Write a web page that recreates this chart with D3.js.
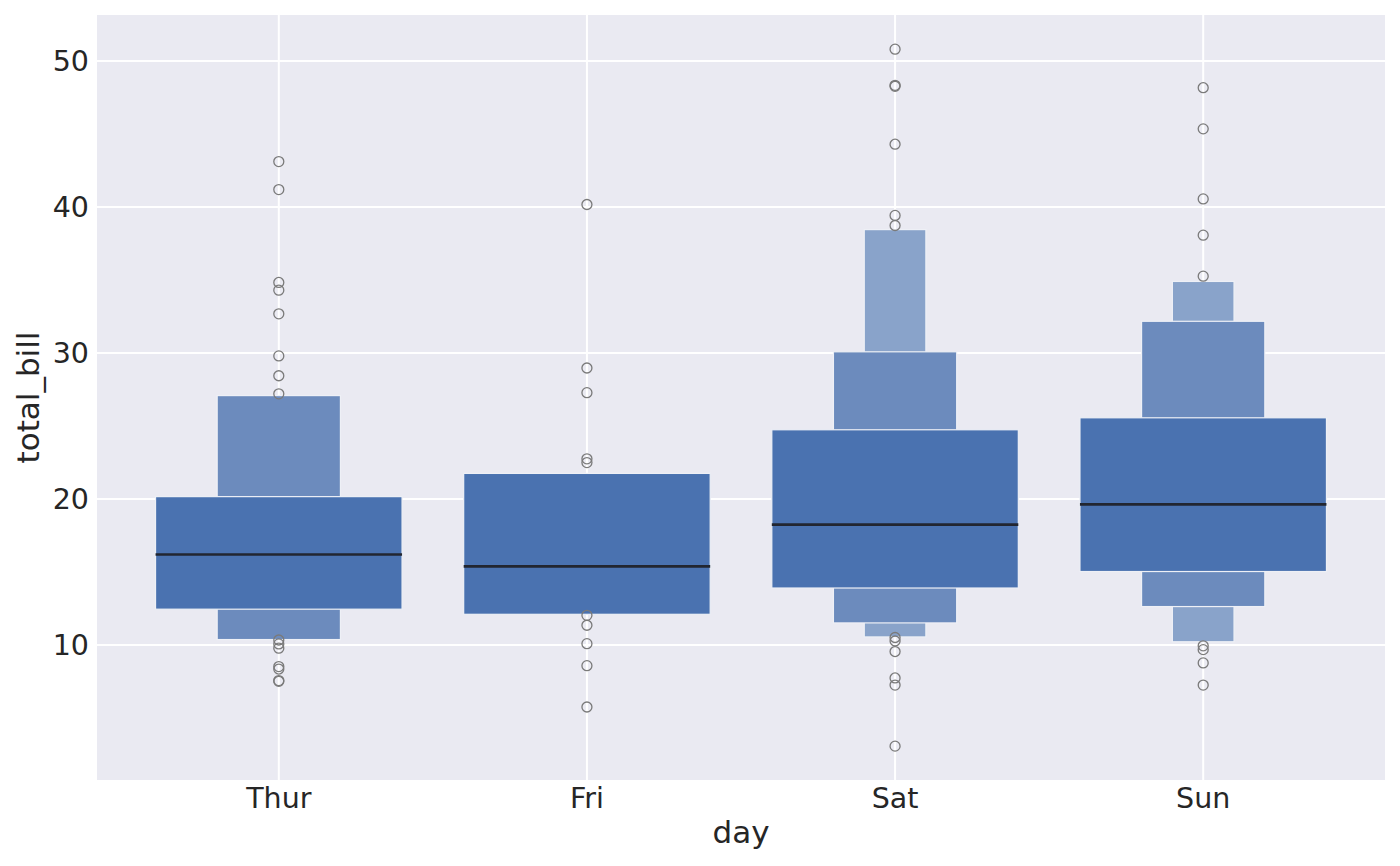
<!DOCTYPE html>
<html>
<head>
<meta charset="utf-8">
<script src="https://cdn.jsdelivr.net/npm/d3@7"></script>
<style>
  body { margin: 0; background: #fff; }
  text { font-family: "DejaVu Sans", sans-serif; fill: #262626; }
</style>
</head>
<body>
<svg id="chart" width="1400" height="866"></svg>
<script>
let days = ["Thur", "Fri", "Sat", "Sun"]
let medians = [16.2, 15.38, 18.24, 19.63]

// letter-value boxes, innermost first: [low, high]
let level1 = [[12.45, 20.16], [12.1, 21.75], [13.9, 24.74], [15.03, 25.56]]
let level2 = [[10.37, 27.08], null, [11.51, 30.08], [12.63, 32.17]]
let level3 = [null, null, [10.55, 38.45], [10.22, 34.9]]

let outliers = [
  [43.11, 41.19, 34.83, 34.30, 32.68, 29.80, 28.44, 27.20, 10.34, 10.07, 9.78, 8.52, 8.35, 7.56, 7.51],
  [40.17, 28.97, 27.28, 22.75, 22.49, 12.03, 11.35, 10.09, 8.58, 5.75],
  [50.81, 48.33, 48.27, 44.30, 39.42, 38.73, 10.51, 10.27, 9.55, 7.74, 7.25, 3.07],
  [48.17, 45.35, 40.55, 38.07, 35.26, 9.94, 9.68, 8.77, 7.25]
]
let yTicks = [10, 20, 30, 40, 50]

let svg = d3.select("#chart")
let plot = {left: 97, right: 1385, top: 15, bottom: 780}

const x = d3.scaleLinear()
    .domain([-0.59, 3.59])
    .range([plot.left, plot.right])

const y = d3.scaleLinear()
    .domain([0.75, 53.15])
    .range([plot.bottom, plot.top])

svg.append("rect")
    .attr("x", plot.left).attr("y", plot.top)
    .attr("width", plot.right - plot.left).attr("height", plot.bottom - plot.top)
    .attr("fill", "#eaeaf2")

// grid
svg.append("g").selectAll("line").data(yTicks).join("line")
    .attr("x1", plot.left).attr("x2", plot.right)
    .attr("y1", d => y(d)).attr("y2", d => y(d))
    .attr("stroke", "#fff").attr("stroke-width", 2)

svg.append("g").selectAll("line").data(days).join("line")
    .attr("x1", (d, i) => x(i)).attr("x2", (d, i) => x(i))
    .attr("y1", plot.top).attr("y2", plot.bottom)
    .attr("stroke", "#fff").attr("stroke-width", 2)

// boxes, outer level first so inner ones sit on top
let fullW = x(0.8) - x(0)
let levels = [
  {data: level3, frac: 0.25, fill: "#89a3ca"},
  {data: level2, frac: 0.5, fill: "#6c8bbd"},
  {data: level1, frac: 1, fill: "#4a72b0"}
]

for (let lv of levels) {
    days.forEach((day, i) => {
        let b = lv.data[i]
        if (!b) return
        let w = fullW * lv.frac
        svg.append("rect")
            .attr("x", x(i) - w / 2)
            .attr("y", y(b[1]))
            .attr("width", w)
            .attr("height", y(b[0]) - y(b[1]))
            .attr("fill", lv.fill)
            .attr("stroke", "#eef0f6")
            .attr("stroke-width", 1.2)
    })
}

// medians
svg.append("g").selectAll("line").data(medians).join("line")
    .attr("x1", (d, i) => x(i) - fullW / 2).attr("x2", (d, i) => x(i) + fullW / 2)
    .attr("y1", d => y(d)).attr("y2", d => y(d))
    .attr("stroke", "#222630").attr("stroke-width", 2.6)

// outliers
days.forEach((day, i) => {
    svg.append("g").selectAll("circle").data(outliers[i]).join("circle")
        .attr("cx", x(i))
        .attr("cy", d => y(d))
        .attr("r", 5)
        .attr("fill", "none")
        .attr("stroke", "#7a7a7a")
        .attr("stroke-width", 1.3)
})

// tick labels
svg.append("g").selectAll("text").data(yTicks).join("text")
    .attr("x", 89).attr("y", d => y(d))
    .attr("dy", "0.36em")
    .style("text-anchor", "end")
    .style("font-size", "28.5px")
    .text(d => d)

svg.append("g").selectAll("text").data(days).join("text")
    .attr("x", (d, i) => x(i)).attr("y", 808)
    .style("text-anchor", "middle")
    .style("font-size", "28.5px")
    .text(d => d)

// axis labels
svg.append("text")
    .attr("x", (plot.left + plot.right) / 2).attr("y", 843)
    .style("text-anchor", "middle")
    .style("font-size", "31px")
    .text("day")

svg.append("text")
    .attr("transform", "translate(39," + ((plot.top + plot.bottom) / 2) + ") rotate(-90)")
    .style("text-anchor", "middle")
    .style("font-size", "31px")
    .text("total_bill")
</script>
</body>
</html>
